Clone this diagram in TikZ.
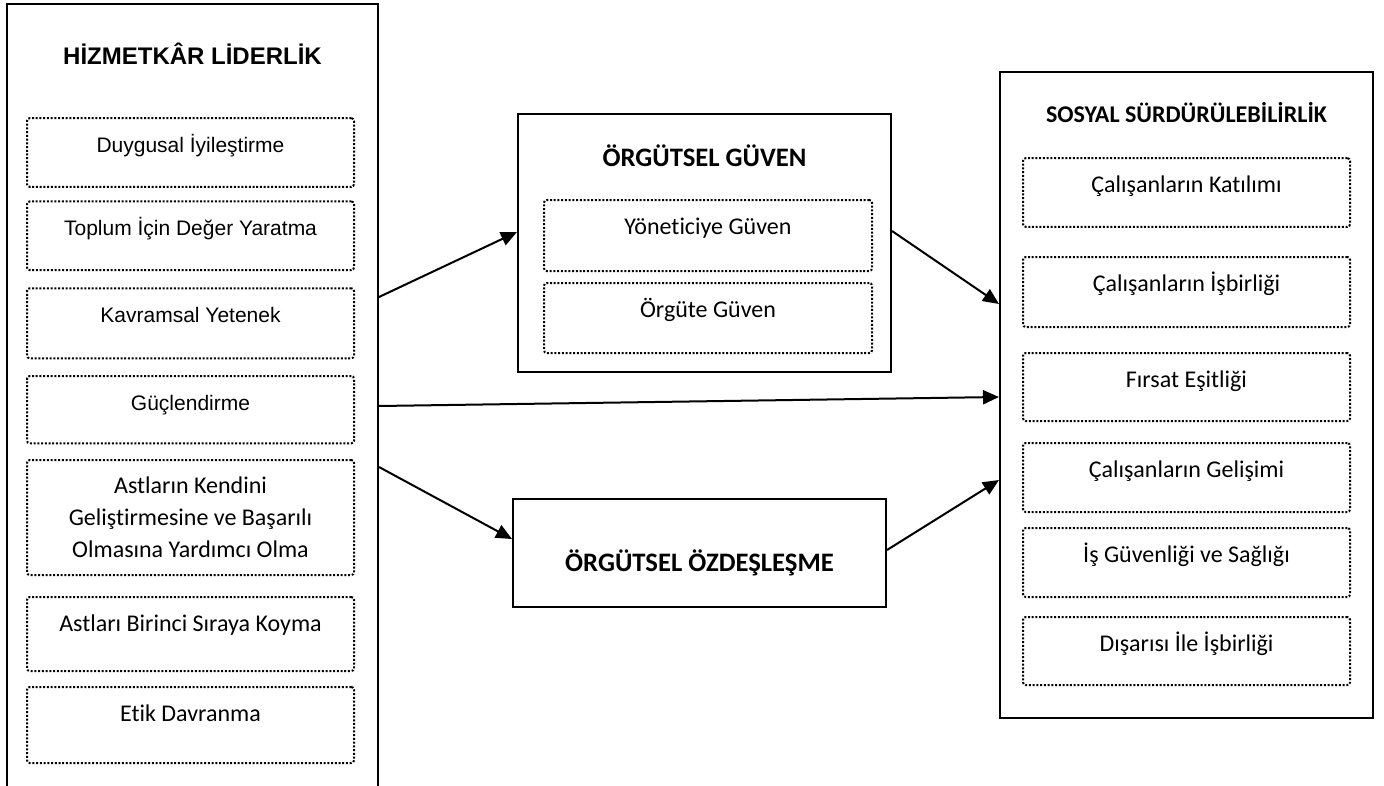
\documentclass[tikz,border=0pt]{standalone}
\usepackage{fontspec}
\setmainfont{Carlito}[Ligatures=NoCommon]
\newfontfamily\arialfont{Liberation Sans}
\usetikzlibrary{arrows.meta, positioning, calc}

\tikzset{
    outerbox/.style={draw, line width=1.5pt, inner sep=0pt},
    dotbox/.style={draw, line width=1.5pt, dash pattern=on 1.5pt off 1.3pt,
        rounded corners=2pt, minimum width=245.25pt, inner sep=0pt, align=center},
    onel/.style={text height=25.5pt},
    arialitem/.style={font=\arialfont\fontsize{15.75}{19}\selectfont},
    calitem/.style={font=\fontsize{18}{24}\selectfont},
    bigtitle/.style={anchor=base, font=\bfseries\fontsize{20}{24}\selectfont},
    arr/.style={line width=1.5pt, -{Triangle[length=12pt, width=10.5pt]}}
}

\begin{document}
\begin{tikzpicture}[x=0.75pt, y=-0.75pt]
    \useasboundingbox (0,0) rectangle (1384,785);
    \clip (0,0) rectangle (1384,785);

    % Hizmetkar liderlik
    \node[outerbox, minimum width=278.25pt, minimum height=597pt] (hl) at (192.5,402) {};
    \node[anchor=base, font=\arialfont\bfseries\fontsize{18}{22}\selectfont] (hlt) at (192.5,64) {HİZMETKÂR LİDERLİK};
    \node[dotbox, onel, arialitem, text depth=26pt] (hl1) at (190.5,152.5) {Duygusal İyileştirme};
    \node[dotbox, onel, arialitem, text depth=26pt] (hl2) at (190.5,235.8) {Toplum İçin Değer Yaratma};
    \node[dotbox, onel, arialitem, text depth=27pt] (hl3) at (190.5,323.3) {Kavramsal Yetenek};
    \node[dotbox, onel, arialitem, text depth=25pt] (hl4) at (190.5,409.7) {Güçlendirme};
    \node[dotbox, calitem, minimum height=86.25pt] (hl5) at (190.5,517.5) {Astların Kendini\\Geliştirmesine ve Başarılı\\Olmasına Yardımcı Olma};
    \node[dotbox, onel, calitem, text depth=30pt] (hl6) at (190.5,634) {Astları Birinci Sıraya Koyma};
    \node[dotbox, onel, calitem, text depth=31.5pt] (hl7) at (190.5,725) {Etik Davranma};

    % Orgutsel guven
    \node[outerbox, minimum width=279.75pt, minimum height=193.5pt] (og) at (704.5,243) {};
    \node[bigtitle] (ogt) at (704.5,166) {ÖRGÜTSEL GÜVEN};
    \node[dotbox, onel, calitem, minimum width=246pt, text depth=27.75pt] (og1) at (708,235.5) {Yöneticiye Güven};
    \node[dotbox, onel, calitem, minimum width=246pt, text depth=27pt] (og2) at (708,318) {Örgüte Güven};

    % Orgutsel ozdeslesme
    \node[outerbox, minimum width=279.75pt, minimum height=81pt] (oz) at (699.5,553) {};
    \node[bigtitle] (ozt) at (699.5,571) {ÖRGÜTSEL ÖZDEŞLEŞME};

    % Sosyal surdurulebilirlik
    \node[outerbox, minimum width=279.75pt, minimum height=484.5pt] (ss) at (1186.5,395) {};
    \node[anchor=base, font=\bfseries\fontsize{18}{22}\selectfont] (sst) at (1186.5,122) {SOSYAL SÜRDÜRÜLEBİLİRLİK};
    \node[dotbox, onel, calitem, text depth=26pt] (ss1) at (1186.5,192.5) {Çalışanların Katılımı};
    \node[dotbox, onel, calitem, text depth=27pt] (ss2) at (1186.5,292) {Çalışanların İşbirliği};
    \node[dotbox, onel, calitem, text depth=25.5pt] (ss3) at (1186.5,387) {Fırsat Eşitliği};
    \node[dotbox, onel, calitem, text depth=26.25pt] (ss4) at (1186.5,477.5) {Çalışanların Gelişimi};
    \node[dotbox, onel, calitem, text depth=26.25pt] (ss5) at (1186.5,562.5) {İş Güvenliği ve Sağlığı};
    \node[dotbox, onel, calitem, text depth=25.5pt] (ss6) at (1186.5,651) {Dışarısı İle İşbirliği};

    % arrows
    \draw[arr] ([yshift=-220.5pt]hl.north east) -- ([yshift=8.25pt]og.west);
    \draw[arr] ([yshift=9pt]og.east) -- ([yshift=68.25pt]ss.west);
    \draw[arr] ([yshift=-3pt]hl.east) -- ([yshift=-1.5pt]ss.west);
    \draw[arr] ([yshift=-348pt]hl.north east) -- ([yshift=10.5pt]oz.west);
    \draw[arr] ([yshift=2.25pt]oz.east) -- ([yshift=-63.75pt]ss.west);
\end{tikzpicture}
\end{document}
